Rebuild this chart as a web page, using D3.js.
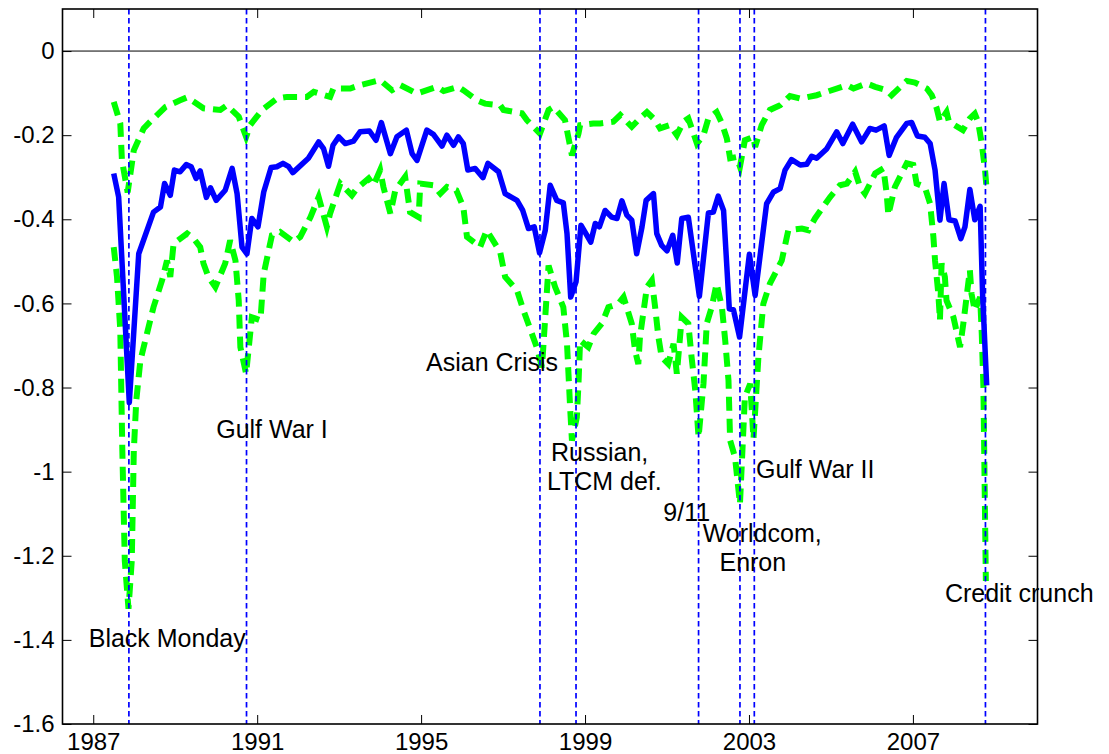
<!DOCTYPE html>
<html>
<head>
<meta charset="utf-8">
<script src="https://cdn.jsdelivr.net/npm/d3@7/dist/d3.min.js"></script>
<style>
body { margin: 0; background: #fff; }
text { font-family: "Liberation Sans", Arial, sans-serif; fill: #000; }
</style>
</head>
<body>
<div id="container"></div>
<script>
var width = 1109, height = 754;

// x ticks and y ticks
var yearTicks = [1987, 1991, 1995, 1999, 2003, 2007];
var valueTicks = [0, -0.2, -0.4, -0.6, -0.8, -1, -1.2, -1.4, -1.6];

// events (dashed vertical lines)
var eventNames = ["Black Monday", "Gulf War I", "Asian Crisis", "Russian,\nLTCM def.", "9/11", "Worldcom,\nEnron", "Gulf War II", "Credit crunch"];
var eventDates = [1987.87, 1990.74, 1997.90, 1998.78, 2001.77, 2002.78, 2003.13, 2008.77];

// estimate (blue)
var meanDates = [1987.50, 1987.62, 1987.88, 1988.11, 1988.47, 1988.64, 1988.74, 1988.88, 1988.98, 1989.12, 1989.27, 1989.39, 1989.51, 1989.61, 1989.76, 1989.86, 1990.00, 1990.22, 1990.39, 1990.51, 1990.63, 1990.75, 1990.87, 1991.02, 1991.16, 1991.34, 1991.48, 1991.63, 1991.77, 1991.87, 1992.25, 1992.50, 1992.62, 1992.74, 1992.85, 1992.99, 1993.15, 1993.35, 1993.51, 1993.74, 1993.90, 1994.03, 1994.25, 1994.41, 1994.64, 1994.78, 1994.90, 1995.14, 1995.30, 1995.51, 1995.63, 1995.79, 1995.91, 1996.03, 1996.14, 1996.32, 1996.51, 1996.63, 1996.89, 1997.05, 1997.21, 1997.34, 1997.48, 1997.62, 1997.76, 1997.89, 1998.03, 1998.15, 1998.31, 1998.47, 1998.56, 1998.65, 1998.78, 1998.90, 1999.14, 1999.25, 1999.35, 1999.49, 1999.65, 1999.78, 1999.90, 2000.02, 2000.14, 2000.26, 2000.39, 2000.49, 2000.67, 2000.75, 2000.87, 2001.00, 2001.14, 2001.25, 2001.36, 2001.52, 2001.79, 2002.01, 2002.13, 2002.25, 2002.38, 2002.52, 2002.62, 2002.77, 2003.01, 2003.15, 2003.43, 2003.60, 2003.76, 2003.88, 2004.04, 2004.25, 2004.41, 2004.53, 2004.65, 2004.90, 2005.14, 2005.29, 2005.53, 2005.75, 2005.95, 2006.10, 2006.30, 2006.42, 2006.60, 2006.85, 2006.97, 2007.11, 2007.29, 2007.42, 2007.54, 2007.66, 2007.76, 2007.88, 2008.03, 2008.17, 2008.27, 2008.39, 2008.51, 2008.64, 2008.70, 2008.80];
var meanValues = [-0.291, -0.347, -0.836, -0.482, -0.383, -0.371, -0.315, -0.343, -0.283, -0.287, -0.270, -0.275, -0.303, -0.285, -0.348, -0.325, -0.355, -0.331, -0.279, -0.339, -0.466, -0.482, -0.398, -0.418, -0.335, -0.277, -0.275, -0.267, -0.275, -0.289, -0.255, -0.216, -0.232, -0.274, -0.224, -0.204, -0.220, -0.214, -0.192, -0.190, -0.212, -0.170, -0.244, -0.204, -0.188, -0.244, -0.260, -0.188, -0.198, -0.226, -0.200, -0.224, -0.204, -0.220, -0.283, -0.279, -0.301, -0.267, -0.287, -0.339, -0.348, -0.355, -0.379, -0.422, -0.418, -0.480, -0.426, -0.319, -0.355, -0.361, -0.434, -0.585, -0.549, -0.414, -0.454, -0.410, -0.418, -0.379, -0.395, -0.398, -0.356, -0.390, -0.402, -0.482, -0.418, -0.355, -0.339, -0.434, -0.462, -0.475, -0.438, -0.504, -0.398, -0.395, -0.583, -0.385, -0.383, -0.345, -0.379, -0.613, -0.615, -0.680, -0.483, -0.581, -0.363, -0.335, -0.327, -0.283, -0.258, -0.271, -0.269, -0.250, -0.255, -0.232, -0.192, -0.220, -0.174, -0.216, -0.184, -0.188, -0.178, -0.248, -0.205, -0.172, -0.170, -0.202, -0.205, -0.220, -0.283, -0.402, -0.315, -0.401, -0.404, -0.446, -0.418, -0.329, -0.401, -0.369, -0.577, -0.795];

// upper band (green dashed)
var upperDates = [1987.50, 1987.66, 1987.70, 1987.84, 1987.99, 1988.23, 1988.39, 1988.76, 1989.12, 1989.29, 1989.69, 1990.10, 1990.26, 1990.55, 1990.73, 1990.83, 1991.12, 1991.48, 1991.73, 1992.21, 1992.38, 1992.78, 1992.86, 1993.27, 1993.51, 1994.00, 1994.29, 1994.49, 1994.90, 1995.39, 1995.55, 1995.91, 1996.03, 1996.36, 1996.56, 1996.93, 1997.01, 1997.46, 1997.58, 1997.90, 1998.11, 1998.23, 1998.51, 1998.68, 1998.84, 1998.88, 1999.20, 1999.37, 1999.69, 1999.86, 2000.14, 2000.34, 2000.51, 2000.71, 2000.83, 2001.07, 2001.24, 2001.40, 2001.52, 2001.73, 2001.89, 2002.01, 2002.21, 2002.34, 2002.46, 2002.54, 2002.70, 2002.78, 2002.90, 2003.11, 2003.15, 2003.31, 2003.51, 2003.76, 2004.00, 2004.25, 2004.65, 2004.90, 2005.39, 2005.55, 2005.87, 2006.08, 2006.36, 2006.48, 2006.85, 2007.05, 2007.34, 2007.46, 2007.58, 2007.66, 2007.82, 2007.88, 2008.22, 2008.39, 2008.51, 2008.59, 2008.68, 2008.76, 2008.80];
var upperValues = [-0.121, -0.172, -0.260, -0.336, -0.236, -0.184, -0.168, -0.133, -0.117, -0.110, -0.136, -0.140, -0.129, -0.156, -0.204, -0.176, -0.140, -0.113, -0.109, -0.109, -0.097, -0.109, -0.089, -0.089, -0.081, -0.069, -0.093, -0.081, -0.101, -0.085, -0.095, -0.085, -0.093, -0.117, -0.125, -0.129, -0.140, -0.148, -0.164, -0.196, -0.140, -0.133, -0.164, -0.248, -0.196, -0.176, -0.172, -0.172, -0.168, -0.152, -0.180, -0.160, -0.145, -0.164, -0.184, -0.176, -0.200, -0.168, -0.160, -0.220, -0.200, -0.160, -0.145, -0.172, -0.208, -0.255, -0.252, -0.275, -0.212, -0.204, -0.228, -0.176, -0.140, -0.129, -0.107, -0.113, -0.105, -0.097, -0.081, -0.089, -0.077, -0.085, -0.093, -0.105, -0.071, -0.075, -0.089, -0.105, -0.136, -0.168, -0.145, -0.168, -0.188, -0.160, -0.149, -0.168, -0.220, -0.283, -0.330];

// lower band (green dashed)
var lowerDates = [1987.50, 1987.58, 1987.66, 1987.71, 1987.77, 1987.86, 1987.94, 1987.99, 1988.05, 1988.15, 1988.31, 1988.47, 1988.68, 1988.80, 1988.88, 1988.96, 1989.29, 1989.45, 1989.61, 1989.69, 1989.81, 1989.98, 1990.22, 1990.34, 1990.47, 1990.55, 1990.59, 1990.73, 1990.87, 1991.08, 1991.16, 1991.36, 1991.56, 1991.89, 1992.05, 1992.30, 1992.50, 1992.70, 1992.78, 1993.03, 1993.31, 1993.43, 1993.72, 1993.84, 1994.00, 1994.08, 1994.25, 1994.37, 1994.61, 1994.73, 1994.94, 1994.98, 1995.30, 1995.47, 1995.63, 1995.86, 1996.03, 1996.12, 1996.44, 1996.60, 1996.93, 1997.05, 1997.34, 1997.50, 1997.82, 1997.95, 1998.11, 1998.27, 1998.47, 1998.56, 1998.64, 1998.68, 1998.80, 1998.84, 1998.88, 1999.08, 1999.21, 1999.41, 1999.57, 1999.81, 1999.94, 2000.14, 2000.22, 2000.30, 2000.34, 2000.51, 2000.63, 2000.71, 2000.79, 2000.87, 2001.03, 2001.16, 2001.24, 2001.36, 2001.52, 2001.60, 2001.69, 2001.77, 2001.89, 2001.97, 2002.09, 2002.21, 2002.34, 2002.42, 2002.50, 2002.54, 2002.66, 2002.78, 2002.90, 2003.03, 2003.11, 2003.23, 2003.35, 2003.51, 2003.80, 2003.96, 2004.29, 2004.45, 2004.61, 2004.98, 2005.22, 2005.39, 2005.59, 2005.71, 2005.83, 2006.08, 2006.28, 2006.36, 2006.40, 2006.56, 2006.85, 2007.01, 2007.09, 2007.29, 2007.42, 2007.50, 2007.54, 2007.62, 2007.66, 2007.70, 2007.78, 2007.82, 2007.99, 2008.15, 2008.23, 2008.39, 2008.43, 2008.51, 2008.64, 2008.68, 2008.72, 2008.78];
var lowerValues = [-0.466, -0.537, -0.664, -0.950, -1.212, -1.326, -1.212, -0.950, -0.831, -0.736, -0.672, -0.609, -0.545, -0.498, -0.537, -0.458, -0.434, -0.446, -0.466, -0.505, -0.537, -0.561, -0.505, -0.450, -0.498, -0.593, -0.704, -0.767, -0.633, -0.640, -0.529, -0.438, -0.430, -0.454, -0.442, -0.395, -0.347, -0.418, -0.386, -0.315, -0.343, -0.327, -0.303, -0.319, -0.283, -0.323, -0.386, -0.331, -0.299, -0.383, -0.395, -0.315, -0.319, -0.339, -0.323, -0.331, -0.371, -0.442, -0.466, -0.426, -0.478, -0.537, -0.569, -0.617, -0.704, -0.752, -0.510, -0.561, -0.609, -0.696, -0.855, -0.926, -0.871, -0.791, -0.688, -0.704, -0.672, -0.648, -0.609, -0.601, -0.585, -0.648, -0.712, -0.744, -0.680, -0.561, -0.545, -0.609, -0.680, -0.728, -0.744, -0.696, -0.767, -0.633, -0.648, -0.728, -0.807, -0.918, -0.791, -0.648, -0.609, -0.553, -0.609, -0.688, -0.783, -0.926, -0.966, -1.077, -0.823, -0.791, -0.922, -0.728, -0.601, -0.553, -0.498, -0.426, -0.422, -0.426, -0.398, -0.347, -0.319, -0.315, -0.287, -0.323, -0.339, -0.291, -0.279, -0.339, -0.390, -0.323, -0.267, -0.271, -0.315, -0.323, -0.363, -0.442, -0.498, -0.577, -0.640, -0.505, -0.537, -0.593, -0.633, -0.704, -0.648, -0.521, -0.577, -0.617, -0.585, -0.672, -0.799, -1.260];

var plotLeft = 62.5, plotRight = 1037.5, plotTop = 9, plotBottom = 724;

var xScale = d3.scaleLinear().domain([1986.25, 2010.04]).range([plotLeft, plotRight]);
var yScale = d3.scaleLinear().domain([-1.6, 0.1]).range([plotBottom, plotTop]);

var translate = function (x, y) {
	return "translate(" + x + "," + y + ")";
};

var toPoints = function (dates, values) {
	return d3.zip(dates, values).map(function (d) { return {x: d[0], y: d[1]}; });
};

var line = d3.line()
	.x(function (d) { return xScale(d.x); })
	.y(function (d) { return yScale(d.y); });

// where each event label sits (year, value of baseline), one entry per text line
var labelSpots = [
	[[1986.89, -1.417]],
	[[1990.00, -0.920]],
	[[1995.12, -0.760]],
	[[1998.17, -0.975], [1998.07, -1.044]],
	[[2000.91, -1.117]],
	[[2001.87, -1.168], [2002.28, -1.237]],
	[[2003.17, -1.015]],
	[[2007.78, -1.309]]
];

function drawAxis(svg) {
	var fmt = function (d) { return String(d); };
	var styleAxis = function (g) {
		g.select('.domain').remove();
		g.selectAll('.tick line').attr('stroke', '#000').attr('stroke-width', 1);
		g.attr('font-size', 24).attr('font-family', '"Liberation Sans", Arial, sans-serif');
		g.selectAll('.tick text').attr('fill', '#000');
	};
	svg.append('g')
		.attr('transform', translate(0, plotBottom))
		.call(d3.axisBottom(xScale).tickValues(yearTicks).tickFormat(fmt).tickSize(-9).tickPadding(9))
		.call(styleAxis);
	svg.append('g')
		.attr('transform', translate(0, plotTop))
		.call(d3.axisTop(xScale).tickValues(yearTicks).tickFormat('').tickSize(-9))
		.call(styleAxis);
	svg.append('g')
		.attr('transform', translate(plotLeft, 0))
		.call(d3.axisLeft(yScale).tickValues(valueTicks).tickFormat(fmt).tickSize(-9).tickPadding(8))
		.call(styleAxis);
	svg.append('g')
		.attr('transform', translate(plotRight, 0))
		.call(d3.axisRight(yScale).tickValues(valueTicks).tickFormat('').tickSize(-9))
		.call(styleAxis);
	svg.append('rect')
		.attr('x', plotLeft).attr('y', plotTop)
		.attr('width', plotRight - plotLeft).attr('height', plotBottom - plotTop)
		.attr('fill', 'none').attr('stroke', '#000').attr('stroke-width', 1.6);
}

function visualize() {
	var svg = d3.select('#container')
		.append('svg')
		.attr('width', width)
		.attr('height', height);

	// zero line
	svg.append('line')
		.attr('x1', plotLeft).attr('x2', plotRight)
		.attr('y1', yScale(0)).attr('y2', yScale(0))
		.attr('stroke', '#000').attr('stroke-width', 1);

	[toPoints(upperDates, upperValues), toPoints(lowerDates, lowerValues)].forEach(function (pts) {
		svg.append('path')
			.attr('d', line(pts))
			.attr('fill', 'none')
			.attr('stroke', '#00ff00')
			.attr('stroke-width', 6)
			.attr('stroke-dasharray', '14,8');
	});

	svg.append('path')
		.attr('d', line(toPoints(meanDates, meanValues)))
		.attr('fill', 'none')
		.attr('stroke', '#0000ff')
		.attr('stroke-width', 5.5)
		.attr('stroke-linejoin', 'round');

	svg.selectAll('line.event').data(eventDates).enter()
		.append('line')
		.classed('event', true)
		.attr('x1', function (d) { return xScale(d); })
		.attr('x2', function (d) { return xScale(d); })
		.attr('y1', plotTop).attr('y2', plotBottom)
		.attr('stroke', '#0000ff')
		.attr('stroke-width', 1.7)
		.attr('stroke-dasharray', '5.5,3.5');

	eventNames.forEach(function (name, i) {
		name.split('\n').forEach(function (part, j) {
			var spot = labelSpots[i][j];
			svg.append('text')
				.attr('x', xScale(spot[0]))
				.attr('y', yScale(spot[1]))
				.attr('font-size', 25)
				.text(part);
		});
	});

	drawAxis(svg);
}

window.onload = visualize;
</script>
</body>
</html>
